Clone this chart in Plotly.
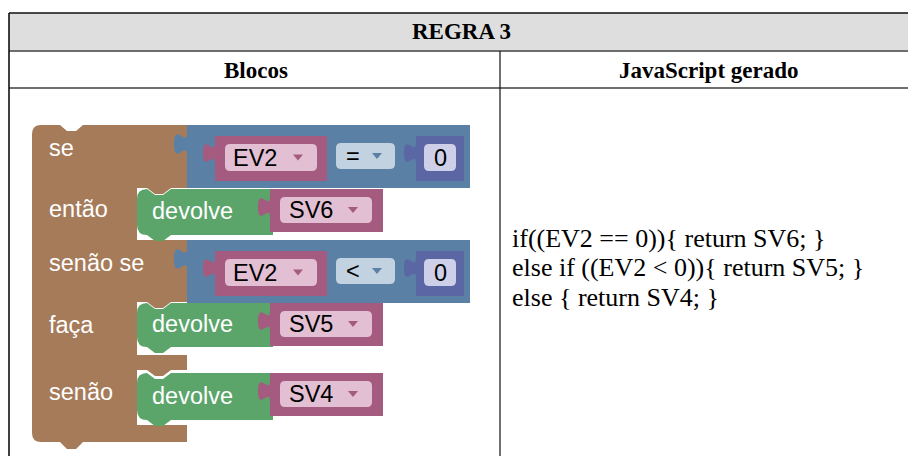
import plotly.graph_objects as go

# ---------------- data (texts) ----------------
title_text = "REGRA 3"
column_headers = ["Blocos", "JavaScript gerado"]
block_labels = ["se", "então", "senão se", "faça", "senão"]
compare_vars = ["EV2", "EV2"]
compare_ops = ["=", "<"]
compare_nums = ["0", "0"]
return_word = "devolve"
return_vars = ["SV6", "SV5", "SV4"]
code_lines = [
    "if((EV2 == 0)){ return SV6; }",
    "else if ((EV2 < 0)){ return SV5; }",
    "else { return SV4; }",
]

# ---------------- style ----------------
W, H = 916, 456
PAD = 8  # page body margin
BROWN = "#A67B5A"
BLUE = "#5B80A5"
PINK = "#A55B80"
PINK_FIELD = "#E2BFD2"
OP_FIELD = "#C2D2E0"
PURPLE = "#5B67A5"
PURPLE_FIELD = "#CDD0E8"
GREEN = "#5BA56B"
SERIF = "Liberation Serif, Times New Roman, serif"
SANS = "Liberation Sans, Arial, sans-serif"
BF = 23.5  # blockly font size

shapes = []
annotations = []


def add_path(path, fill):
    shapes.append(dict(type="path", xref="x", yref="y", path=path,
                       fillcolor=fill, line=dict(width=0), layer="above"))


def add_line(x0, y0, x1, y1, color, width):
    shapes.append(dict(type="line", xref="x", yref="y", x0=x0, y0=y0, x1=x1, y1=y1,
                       line=dict(color=color, width=width), layer="above"))


def add_text(x, y, text, size, color, family, bold=False, xanchor="left"):
    if bold:
        text = "<b>" + text + "</b>"
    annotations.append(dict(x=x, y=y, xref="x", yref="y", text=text, showarrow=False,
                            xanchor=xanchor, yanchor="middle",
                            font=dict(size=size, color=color, family=family)))


def rrect(x0, y0, x1, y1, r):
    return (f"M {x0+r},{y0} L {x1-r},{y0} Q {x1},{y0} {x1},{y0+r} L {x1},{y1-r} "
            f"Q {x1},{y1} {x1-r},{y1} L {x0+r},{y1} Q {x0},{y1} {x0},{y1-r} "
            f"L {x0},{y0+r} Q {x0},{y0} {x0+r},{y0} Z")


def value_block(x0, y0, x1, y1, toff, th, tw):
    s = th / 15.0
    sw = tw / 8.0
    yb = y0 + toff + th
    p = f"M {x0},{y0} L {x1},{y0} L {x1},{y1} L {x0},{y1} L {x0},{yb} "
    p += (f"C {x0},{yb-10*s} {x0-8*sw},{yb+8*s} {x0-8*sw},{yb-7.5*s} "
          f"C {x0-8*sw},{yb-23*s} {x0},{yb-5*s} {x0},{yb-15*s} Z")
    return p


def dropdown(cx, cy, color):
    add_path(f"M {cx-5},{cy-3} L {cx+5},{cy-3} L {cx},{cy+3} Z", color)


# ---------------- table ----------------
TOP, LEFT, RIGHT = 13, 9, 916
ROW1, ROW2, COLX = 51, 88, 500
shapes.append(dict(type="rect", xref="x", yref="y", x0=LEFT, y0=TOP, x1=RIGHT, y1=ROW1,
                   fillcolor="#DEDEDE", line=dict(width=0), layer="below"))
add_line(LEFT, TOP, RIGHT, TOP, "#111111", 1.6)
add_line(LEFT, ROW1, RIGHT, ROW1, "#6E6E6E", 2)
add_line(LEFT, ROW2, RIGHT, ROW2, "#6E6E6E", 2)
add_line(LEFT, TOP, LEFT, H, "#111111", 1.6)
add_line(COLX, ROW1, COLX, H, "#111111", 1.2)

add_text(461, 31, title_text, 23, "black", SERIF, bold=True, xanchor="center")
add_text(256, 70, column_headers[0], 23, "black", SERIF, bold=True, xanchor="center")
add_text(709, 70, column_headers[1], 23, "black", SERIF, bold=True, xanchor="center")

for i, line in enumerate(code_lines):
    add_text(510, 238 + 29.5 * i, line, 26, "black", SERIF)

# ---------------- blockly blocks ----------------
L, T, RO, RI, BOT = 32, 125, 187, 137, 442
NX0, NX1 = RI + 10, RI + 34
stmt_rows = [(188, 240), (302, 355), (370, 425)]
r = 9

p = f"M {L+r},{T} L 60,{T} L 67,{T+6} L 76,{T+6} L 83,{T} L {RO},{T} "
for (ys, ye) in stmt_rows:
    p += (f"L {RO},{ys} L {NX1},{ys} L {NX1-8},{ys+6} L {NX0+8},{ys+6} L {NX0},{ys} "
          f"L {RI},{ys} L {RI},{ye} L {RO},{ye} ")
p += (f"L {RO},{BOT} L 83,{BOT} L 76,{BOT+7} L 67,{BOT+7} L 60,{BOT} "
      f"L {L+r},{BOT} Q {L},{BOT} {L},{BOT-r} L {L},{T+r} Q {L},{T} {L+r},{T} Z")
add_path(p, BROWN)

label_y = [148, 209, 263, 325, 392]
for lab, y in zip(block_labels, label_y):
    add_text(47, y, lab, BF, "white", SANS)

# compare blocks (logic_compare)
for k, dy in enumerate([0, 115]):
    add_path(value_block(RO, T + dy, 470, 188 + dy, 8, 22, 13), BLUE)
    add_path(value_block(215, 136 + dy, 327, 181 + dy, 7, 20, 12), PINK)
    add_path(rrect(225, 144 + dy, 317, 171 + dy, 5), PINK_FIELD)
    add_text(231, 157.5 + dy, compare_vars[k], BF, "black", SANS)
    dropdown(298, 157.5 + dy, PINK)
    add_path(rrect(336, 143 + dy, 395, 169 + dy, 5), OP_FIELD)
    add_text(344, 156 + dy, compare_ops[k], BF, "black", SANS)
    dropdown(377, 156 + dy, BLUE)
    add_path(value_block(416, 136 + dy, 464, 181 + dy, 7, 20, 12), PURPLE)
    add_path(rrect(424, 144 + dy, 456, 171 + dy, 5), PURPLE_FIELD)
    add_text(440, 157.5 + dy, compare_nums[k], BF, "black", SANS, xanchor="center")

# return blocks
green_rows = [(189, 235), (303, 347), (373, 420)]
for k, (t, b) in enumerate(green_rows):
    gr = 10
    gp = (f"M {RI+gr},{t} L {NX0},{t} L {NX0+8},{t+6} L {NX1-8},{t+6} L {NX1},{t} "
          f"L 273,{t} L 273,{b} L {NX1},{b} L {NX1-8},{b+6} L {NX0+8},{b+6} L {NX0},{b} "
          f"L {RI+gr},{b} Q {RI},{b} {RI},{b-gr} L {RI},{t+gr} Q {RI},{t} {RI+gr},{t} Z")
    add_path(gp, GREEN)
    add_text(150, (t + b) / 2 - 1, return_word, BF, "white", SANS)
    add_path(value_block(270, t, 383, t + 43, 8, 20, 12), PINK)
    add_path(rrect(280, t + 8, 372, t + 34, 5), PINK_FIELD)
    add_text(287, t + 21, return_vars[k], BF, "black", SANS)
    dropdown(353, t + 21, PINK)

fig = go.Figure()
fig.update_layout(
    width=W - PAD, height=H - PAD,
    margin=dict(l=0, r=0, t=0, b=0),
    paper_bgcolor="white", plot_bgcolor="white",
    xaxis=dict(range=[PAD, W], visible=False, fixedrange=True),
    yaxis=dict(range=[H, PAD], visible=False, fixedrange=True),
    shapes=shapes, annotations=annotations, showlegend=False,
)
fig.write_html("out.html")
